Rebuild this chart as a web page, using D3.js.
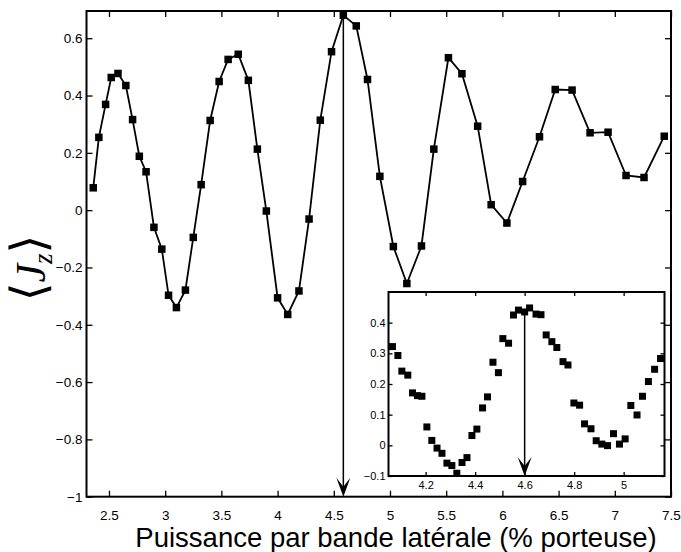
<!DOCTYPE html>
<html>
<head>
<meta charset="utf-8">
<script src="https://cdn.jsdelivr.net/npm/d3@7"></script>
<style>
  body { margin: 0; background: #fff; }
  svg { display: block; font-family: "Liberation Sans", Arial, sans-serif; }
</style>
</head>
<body>
<script>
// main curve: power per sideband vs <Jz>
let puissance = [2.36, 2.41, 2.47, 2.52, 2.58, 2.65, 2.71, 2.77, 2.83, 2.90, 2.97, 3.03, 3.10, 3.18, 3.25,
    3.32, 3.40, 3.48, 3.56, 3.65, 3.74, 3.82, 3.90, 4.00, 4.09, 4.19, 4.28, 4.38, 4.48, 4.585,
    4.70, 4.80, 4.91, 5.03, 5.15, 5.28, 5.39, 5.52, 5.64, 5.78, 5.90, 6.04, 6.18, 6.33, 6.47,
    6.62, 6.78, 6.94, 7.10, 7.26, 7.44];
let jz = [0.078, 0.254, 0.369, 0.463, 0.477, 0.435, 0.316, 0.188, 0.134, -0.06, -0.136, -0.297, -0.34, -0.279, -0.095,
    0.089, 0.313, 0.449, 0.526, 0.544, 0.453, 0.213, -0.003, -0.306, -0.364, -0.282, -0.031, 0.314, 0.553, 0.68,
    0.643, 0.456, 0.118, -0.127, -0.256, -0.125, 0.213, 0.532, 0.476, 0.293, 0.019, -0.045, 0.100, 0.256, 0.421,
    0.419, 0.270, 0.272, 0.121, 0.114, 0.258];

// inset (zoomed scan)
let insetX = [4.066, 4.088, 4.104, 4.128, 4.147, 4.167, 4.185, 4.205, 4.225, 4.246, 4.266, 4.286, 4.306, 4.326, 4.347,
    4.367, 4.387, 4.407, 4.430, 4.450, 4.472, 4.494, 4.512, 4.535, 4.555, 4.575, 4.600, 4.620, 4.646, 4.666,
    4.687, 4.710, 4.730, 4.755, 4.775, 4.799, 4.822, 4.842, 4.868, 4.889, 4.912, 4.935, 4.959, 4.983, 5.006,
    5.029, 5.054, 5.076, 5.100, 5.125, 5.149];
let insetY = [0.322, 0.293, 0.242, 0.229, 0.171, 0.162, 0.160, 0.060, 0.016, -0.009, -0.026, -0.058, -0.066, -0.091, -0.056,
    -0.040, 0.032, 0.053, 0.122, 0.158, 0.271, 0.237, 0.348, 0.333, 0.425, 0.441, 0.435, 0.448, 0.428, 0.426,
    0.360, 0.338, 0.319, 0.273, 0.262, 0.138, 0.131, 0.070, 0.054, 0.015, 0.004, -0.001, 0.038, 0.004, 0.021,
    0.130, 0.099, 0.160, 0.208, 0.248, 0.283];

let xTicks = [2.5, 3, 3.5, 4, 4.5, 5, 5.5, 6, 6.5, 7, 7.5];
let yTicks = [-1, -0.8, -0.6, -0.4, -0.2, 0, 0.2, 0.4, 0.6];
let insetXTicks = [4.2, 4.4, 4.6, 4.8, 5];
let insetYTicks = [-0.1, 0, 0.1, 0.2, 0.3, 0.4];

let xTitle = 'Puissance par bande latérale (% porteuse)';
let arrowMain = {x: 4.585, from: 0.68, to: -1};
let arrowInset = {x: 4.6, from: 0.44, to: -0.1};

let width = 681, height = 552;
let fmt = d3.format('~g');

let svg = d3.select('body').append('svg')
    .attr('width', width)
    .attr('height', height);

let x = d3.scaleLinear().domain([2.3, 7.5]).range([86.5, 671]);
let y = d3.scaleLinear().domain([-1, 0.695]).range([496.7, 11]);

let xi = d3.scaleLinear().domain([4.05, 5.165]).range([388.5, 664.5]);
let yi = d3.scaleLinear().domain([-0.1, 0.5]).range([476, 292]);

function arrowHead(g, px, py, w, l, notch) {
    // tip pointing down
    let p = d3.path();
    p.moveTo(px, py);
    p.lineTo(px - w / 2, py - l);
    p.lineTo(px, py - notch);
    p.lineTo(px + w / 2, py - l);
    p.closePath();
    g.append('path').attr('d', p.toString()).attr('fill', '#000');
}

function drawAxes(g, xs, ys, xt, yt, tick, fontSize, padX, padY) {
    g.append('g')
        .attr('transform', `translate(0,${ys.range()[0]})`)
        .call(d3.axisBottom(xs).tickValues(xt).tickFormat(fmt).tickSizeInner(-tick).tickSizeOuter(0).tickPadding(padX));
    g.append('g')
        .attr('transform', `translate(0,${ys.range()[1]})`)
        .call(d3.axisTop(xs).tickValues(xt).tickFormat('').tickSizeInner(-tick).tickSizeOuter(0));
    g.append('g')
        .attr('transform', `translate(${xs.range()[0]},0)`)
        .call(d3.axisLeft(ys).tickValues(yt).tickFormat(fmt).tickSizeInner(-tick).tickSizeOuter(0).tickPadding(padY));
    g.append('g')
        .attr('transform', `translate(${xs.range()[1]},0)`)
        .call(d3.axisRight(ys).tickValues(yt).tickFormat('').tickSizeInner(-tick).tickSizeOuter(0));
    g.selectAll('.domain').remove();
    g.selectAll('.tick line').attr('stroke', '#000').attr('stroke-width', 1.3);
    g.selectAll('.tick text').attr('fill', '#000').style('font-size', fontSize + 'px')
        .style('font-family', '"Liberation Sans", Arial, sans-serif');
    g.append('rect')
        .attr('x', xs.range()[0]).attr('y', ys.range()[1])
        .attr('width', xs.range()[1] - xs.range()[0])
        .attr('height', ys.range()[0] - ys.range()[1])
        .attr('fill', 'none').attr('stroke', '#000').attr('stroke-width', 2);
}

// main plot
let main = svg.append('g');
drawAxes(main, x, y, xTicks, yTicks, 6, 13.5, 14, 4);

let data = puissance.map((d, i) => ({x: d, y: jz[i]}));
let line = d3.line().x(d => x(d.x)).y(d => y(d.y));

main.append('path')
    .datum(data)
    .attr('d', line)
    .attr('fill', 'none')
    .attr('stroke', '#000')
    .attr('stroke-width', 1.8);

let ms = 7.5;
main.selectAll('.point')
    .data(data)
    .enter().append('rect')
    .attr('class', 'point')
    .attr('x', d => x(d.x) - ms / 2)
    .attr('y', d => y(d.y) - ms / 2)
    .attr('width', ms)
    .attr('height', ms)
    .attr('fill', '#000');

// arrow in main plot
main.append('line')
    .attr('x1', x(arrowMain.x)).attr('x2', x(arrowMain.x))
    .attr('y1', y(arrowMain.from)).attr('y2', y(arrowMain.to) - 6)
    .attr('stroke', '#000').attr('stroke-width', 1.5);
arrowHead(main, x(arrowMain.x), y(arrowMain.to), 14, 19, 10);

// inset
let inset = svg.append('g');
inset.append('rect')
    .attr('x', xi.range()[0]).attr('y', yi.range()[1])
    .attr('width', xi.range()[1] - xi.range()[0])
    .attr('height', yi.range()[0] - yi.range()[1])
    .attr('fill', '#fff');
drawAxes(inset, xi, yi, insetXTicks, insetYTicks, 4, 11, 5, 3);

let insetData = insetX.map((d, i) => ({x: d, y: insetY[i]}));
let ims = 7;
inset.selectAll('.ipoint')
    .data(insetData)
    .enter().append('rect')
    .attr('class', 'ipoint')
    .attr('x', d => xi(d.x) - ims / 2)
    .attr('y', d => yi(d.y) - ims / 2)
    .attr('width', ims)
    .attr('height', ims)
    .attr('fill', '#000');

inset.append('line')
    .attr('x1', xi(arrowInset.x)).attr('x2', xi(arrowInset.x))
    .attr('y1', yi(arrowInset.from)).attr('y2', yi(arrowInset.to) - 6)
    .attr('stroke', '#000').attr('stroke-width', 1.5);
arrowHead(inset, xi(arrowInset.x), yi(arrowInset.to), 14, 19, 10);

// x title
svg.append('text')
    .attr('x', 396)
    .attr('y', 547)
    .attr('text-anchor', 'middle')
    .style('font-size', '27.5px')
    .text(xTitle);

// y title  <J_z>
let yt = svg.append('text')
    .attr('transform', 'translate(45,268) rotate(-90)')
    .attr('text-anchor', 'middle')
    .style('font-family', '"DejaVu Serif", "Liberation Serif", serif');
yt.append('tspan').style('font-size', '48px').text('\u27E8');
yt.append('tspan').style('font-size', '42px').style('font-style', 'italic')
    .style('font-family', '"Liberation Serif", serif').text('J');
yt.append('tspan').style('font-size', '27px').style('font-style', 'italic')
    .style('font-family', '"Liberation Serif", serif').attr('dy', 7).text('z');
yt.append('tspan').style('font-size', '48px').attr('dy', -7).text('\u27E9');
</script>
</body>
</html>
